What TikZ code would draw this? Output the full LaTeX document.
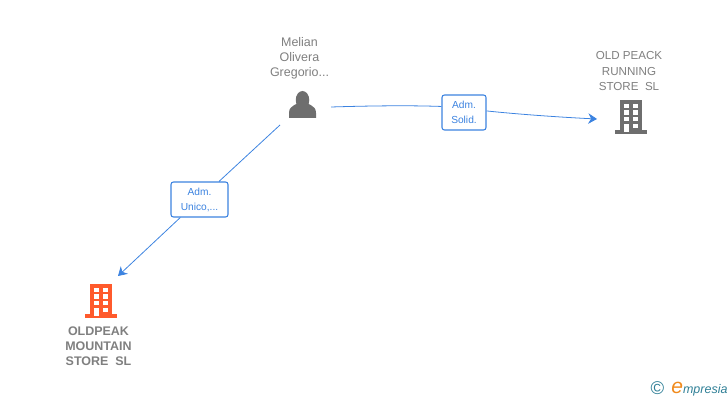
\documentclass[tikz,border=0pt]{standalone}
\usepackage{fontspec}
\setmainfont{Liberation Sans}
\usetikzlibrary{arrows.meta}
\definecolor{linkblue}{HTML}{3C83E0}
\definecolor{iconhue}{HTML}{6E6E6E}
\definecolor{namehue}{HTML}{7F7F7F}
\definecolor{mainhue}{HTML}{FF5A2C}
\definecolor{logohue}{HTML}{2F7F96}
\definecolor{logoe}{HTML}{F08A1D}
\tikzset{
	nametext/.style={align=center, text=namehue, font=\fontsize{6.6pt}{8.55pt}\selectfont, inner sep=0pt},
	personname/.style={nametext, font=\fontsize{7.1pt}{8.45pt}\selectfont},
	mainname/.style={nametext, font=\fontsize{7.1pt}{8.55pt}\selectfont\bfseries},
	role/.style={draw=linkblue, fill=white, rounded corners=1.4pt, line width=0.6pt, align=center,
		text=linkblue, font=\fontsize{5.8pt}{8.55pt}\selectfont, inner sep=0pt},
	link/.style={draw=linkblue, line width=0.45pt},
	tip/.style={-{Stealth[length=5pt,width=6pt]}},
	pics/building/.style={code={
		% origin at the middle of the base, windows cut out in white
		\fill[#1] (-0.32,0) rectangle (0.32,0.08);
		\fill[#1] (-0.22,0.08) rectangle (0.22,0.68);
		\foreach \y in {0.51,0.38,0.25} {
			\fill[white] (-0.15,\y) rectangle (-0.05,\y+0.09);
			\fill[white] (0.04,\y) rectangle (0.14,\y+0.09);
		}
		\fill[white] (-0.15,0.04) rectangle (-0.05,0.2);
		\fill[white] (0.04,0.11) rectangle (0.14,0.2);
	}},
}
\begin{document}
\begin{tikzpicture}
	\useasboundingbox (0,0) rectangle (14.56,8);

	% person
	\fill[iconhue] (6.05,5.64) -- (5.78,5.64) -- (5.78,5.74) .. controls (5.78,5.92) and (5.98,5.9) .. (6.0,5.98) -- (6.1,5.98) .. controls (6.12,5.9) and (6.32,5.92) .. (6.32,5.74) -- (6.32,5.64) -- cycle;
	\fill[iconhue] (6.05,6.0) ellipse [x radius=0.135, y radius=0.18];
	\node[personname] (melian) at (5.99,6.42) [anchor=south] {Melian\\Olivera\\Gregorio...};

	% companies
	\pic at (12.62,5.32) {building=iconhue};
	\pic at (2.02,1.64) {building=mainhue};
	\node[nametext] (oldpeack) at (12.58,6.19) [anchor=south] {OLD PEACK\\RUNNING\\STORE\ \ SL};
	\node[mainname] (oldpeak) at (1.97,0.68) [anchor=south] {OLDPEAK\\MOUNTAIN\\STORE\ \ SL};

	% free ends
	\coordinate (personright) at (6.62,5.86);
	\coordinate (personleft) at (5.6,5.5);
	\coordinate (runningend) at (11.94,5.62);
	\coordinate (mountainend) at (2.36,2.48);

	% roles
	\node[role, minimum width=0.88cm, minimum height=0.7cm] (solid) at (9.28,5.75) {Adm.\\Solid.};
	\node[role, minimum width=1.14cm, minimum height=0.7cm] (unico) at (3.99,4.01) {Adm.\\Unico,...};

	\draw[link] (personright) .. controls (7.6,5.89) and (8.3,5.89) .. (solid.165);
	\draw[link, tip] (solid.4) .. controls (10.2,5.73) and (11.1,5.66) .. (runningend);
	\draw[link] (personleft) -- (unico);
	\draw[link, tip] (unico) -- (mountainend);

	% logo
	\node[text=logohue, font=\fontsize{10.5pt}{10.5pt}\selectfont, inner sep=0pt] (copyr) at (13.15,0.23) {©};
	\node[anchor=west, text=logohue, inner sep=0pt, font=\fontsize{7.1pt}{8pt}\selectfont\itshape] (logo) at (13.42,0.22)
		{{\color{logoe}\fontsize{12pt}{8pt}\selectfont e}mpresia};
\end{tikzpicture}
\end{document}
